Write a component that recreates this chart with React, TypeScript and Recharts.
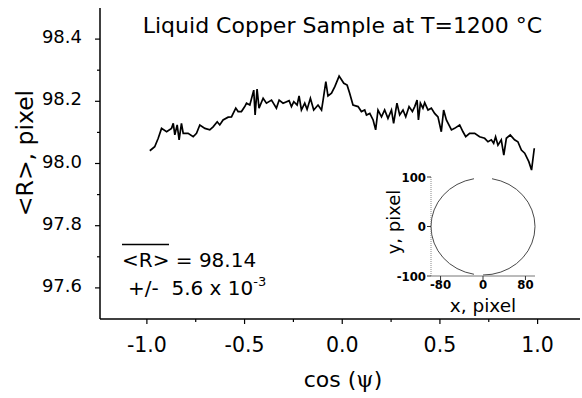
import React from "react";
import { LineChart, Line, XAxis, YAxis } from "recharts";

// cos(psi) positions and mean radius <R> (pixel)
const cosPsi = [
  -0.985, -0.96, -0.942, -0.925, -0.899, -0.874, -0.865, -0.857, -0.845, -0.835,
  -0.823, -0.814, -0.789, -0.763, -0.746, -0.729, -0.703, -0.678, -0.661, -0.64,
  -0.627, -0.61, -0.584, -0.567, -0.545, -0.533, -0.516, -0.499, -0.49, -0.473,
  -0.453, -0.446, -0.436, -0.426, -0.405, -0.388, -0.362, -0.337, -0.323, -0.303,
  -0.272, -0.26, -0.248, -0.231, -0.221, -0.209, -0.192, -0.18, -0.163, -0.146,
  -0.124, -0.106, -0.098, -0.084, -0.073, -0.055, -0.038, -0.016, 0.008, 0.025,
  0.038, 0.055, 0.081, 0.098, 0.115, 0.124, 0.141, 0.158, 0.171, 0.183,
  0.201, 0.217, 0.234, 0.252, 0.263, 0.28, 0.294, 0.311, 0.325, 0.342,
  0.359, 0.371, 0.383, 0.39, 0.4, 0.413, 0.422, 0.439, 0.456, 0.473,
  0.49, 0.507, 0.519, 0.533, 0.559, 0.575, 0.601, 0.618, 0.632, 0.652,
  0.678, 0.703, 0.729, 0.746, 0.763, 0.775, 0.785, 0.797, 0.814, 0.827,
  0.84, 0.86, 0.882, 0.899, 0.917, 0.934, 0.955, 0.969, 0.983,
];
const meanR = [
  98.041, 98.054, 98.081, 98.113, 98.102, 98.113, 98.129, 98.092, 98.124, 98.076,
  98.129, 98.097, 98.097, 98.086, 98.097, 98.124, 98.113, 98.108, 98.118, 98.134,
  98.124, 98.14, 98.149, 98.15, 98.178, 98.167, 98.167, 98.183, 98.194, 98.188,
  98.236, 98.156, 98.239, 98.178, 98.21, 98.194, 98.204, 98.178, 98.204, 98.194,
  98.202, 98.183, 98.199, 98.188, 98.217, 98.172, 98.194, 98.174, 98.21, 98.172,
  98.188, 98.172, 98.204, 98.263, 98.217, 98.226, 98.247, 98.281, 98.258, 98.252,
  98.226, 98.188, 98.183, 98.167, 98.172, 98.156, 98.161, 98.14, 98.108, 98.172,
  98.15, 98.172, 98.145, 98.172, 98.129, 98.194, 98.156, 98.172, 98.15, 98.183,
  98.167, 98.183, 98.204, 98.14, 98.194, 98.178, 98.196, 98.172, 98.178, 98.161,
  98.15, 98.102, 98.172, 98.14, 98.108, 98.113, 98.124, 98.102, 98.086, 98.097,
  98.097, 98.086, 98.081, 98.07, 98.076, 98.065, 98.086, 98.059, 98.076, 98.027,
  98.081, 98.092, 98.076, 98.07, 98.043, 98.033, 98.006, 97.979, 98.049,
];

const xTicks = [-1, -0.75, -0.5, -0.25, 0, 0.25, 0.5, 0.75, 1];
const yTicks = [97.6, 97.7, 97.8, 97.9, 98.0, 98.1, 98.2, 98.3, 98.4];

// inset: edge points of the sample (x, y in pixel), gap near bottom
const edgeX = [
  -17, -33.5, -49, -63, -75.1, -84.9, -92.1, -96.5, -98, -96.5, -92.1, -84.9, -75.1,
  -63, -49, -33.5, -17, -8, 0, 17, 33.5, 49, 63, 75.1, 84.9, 92.1, 96.5, 98, 96.5,
  92.1, 84.9, 75.1, 63, 49, 33.5, 17,
];
const edgeY = [
  96.5, 92.1, 84.9, 75.1, 63, 49, 33.5, 17, 0, -17, -33.5, -49, -63, -75.1, -84.9,
  -92.1, -96.5, null, -98, -96.5, -92.1, -84.9, -75.1, -63, -49, -33.5, -17, 0, 17,
  33.5, 49, 63, 75.1, 84.9, 92.1, 96.5,
];
const insetXTicks = [-80, 0, 80];
const insetYTicks = [-100, 0, 100];

const mainData = cosPsi.map((c, i) => ({ c, r: meanR[i] }));
const edgeData = edgeX.map((x, i) => ({ x, y: edgeY[i] }));

const FONT = "DejaVu Sans, Verdana, sans-serif";
const NARROW = "Liberation Sans Narrow, DejaVu Sans Condensed, Arial Narrow, sans-serif";

const XTick = (props: any) => {
  const { x, y, payload } = props;
  const v = payload.value;
  const major = Math.abs(v * 2 - Math.round(v * 2)) < 1e-6;
  return (
    <g>
      <line x1={x} x2={x} y1={y} y2={y + (major ? 5 : 3)} stroke="#000" strokeWidth={1.2} />
      {major && (
        <text x={x} y={y + 33} textAnchor="middle" fontSize={20.5} fontFamily={FONT} fill="#000">
          {v.toFixed(1)}
        </text>
      )}
    </g>
  );
};

const YTick = (props: any) => {
  const { x, y, payload } = props;
  const v = payload.value;
  const major = Math.round(v * 10) % 2 === 0;
  return (
    <g>
      <line x1={x - (major ? 5 : 3)} x2={x} y1={y} y2={y} stroke="#000" strokeWidth={1.2} />
      {major && (
        <text x={x - 18} y={y + 4} textAnchor="end" fontSize={18} fontFamily={FONT} fill="#000">
          {v.toFixed(1)}
        </text>
      )}
    </g>
  );
};

const insetTick = { fontSize: 13, fontFamily: NARROW, fontWeight: 700, fill: "#000" };

export default function App() {
  return (
    <div style={{ position: "absolute", left: 0, top: 0, width: 582, height: 398, background: "#fff" }}>
      <LineChart width={582} height={398} data={mainData} margin={{ top: 8, right: 2, left: 0, bottom: 0 }}>
        <XAxis
          dataKey="c"
          type="number"
          domain={[-1.24, 1.217]}
          ticks={xTicks}
          interval={0}
          tickSize={0}
          tickMargin={0}
          tick={XTick}
          height={79}
          axisLine={{ stroke: "#000", strokeWidth: 1.5 }}
        />
        <YAxis
          type="number"
          domain={[97.5, 98.5]}
          ticks={yTicks}
          interval={0}
          tickSize={0}
          tickMargin={0}
          tick={YTick}
          width={100}
          axisLine={{ stroke: "#000", strokeWidth: 1.5 }}
        />
        <Line
          type="linear"
          dataKey="r"
          stroke="#000"
          strokeWidth={1.7}
          dot={false}
          isAnimationActive={false}
        />
      </LineChart>

      <svg
        width={582}
        height={398}
        style={{ position: "absolute", left: 0, top: 0, pointerEvents: "none" }}
        fontFamily={FONT}
      >
        <text x={342.5} y={33} textAnchor="middle" fontSize={22}>
          Liquid Copper Sample at T=1200 °C
        </text>
        <text x={33} y={153} textAnchor="middle" fontSize={23.5} transform="rotate(-90, 33, 153)">
          {"<R>, pixel"}
        </text>
        <text x={343} y={387} textAnchor="middle" fontSize={22}>
          cos (<tspan fontFamily="DejaVu Serif, serif">ψ</tspan>)
        </text>
        <line x1={122} x2={169} y1={244.5} y2={244.5} stroke="#000" strokeWidth={1.4} />
        <text x={122} y={267} fontSize={20}>
          {"<R> = 98.14"}
        </text>
        <text x={128} y={295} fontSize={20} style={{ whiteSpace: "pre" }}>
          {"+/-  5.6 x 10"}
          <tspan fontSize={13} dy={-9}>-3</tspan>
        </text>
        <text x={400} y={222} textAnchor="middle" fontSize={18} transform="rotate(-90, 400, 222)">
          y, pixel
        </text>
        <text x={483} y={312} textAnchor="middle" fontSize={18.5}>
          x, pixel
        </text>
      </svg>

      <div style={{ position: "absolute", left: 380, top: 165 }}>
        <LineChart width={160} height={130} data={edgeData} margin={{ top: 12, right: 5, left: 0, bottom: 0 }}>
          <XAxis
            dataKey="x"
            type="number"
            domain={[-98, 98]}
            ticks={insetXTicks}
            interval={0}
            tickSize={4}
            tickMargin={0}
            height={19}
            tick={insetTick}
            axisLine={{ stroke: "#777", strokeWidth: 1 }}
            tickLine={{ stroke: "#333" }}
          />
          <YAxis
            type="number"
            domain={[-100, 100]}
            ticks={insetYTicks}
            interval={0}
            tickSize={4}
            tickMargin={1}
            width={51}
            tick={insetTick}
            axisLine={{ stroke: "#888", strokeWidth: 1, strokeDasharray: "1 1" }}
            tickLine={{ stroke: "#333" }}
          />
          <Line
            type="linear"
            dataKey="y"
            stroke="#333"
            strokeWidth={0.9}
            dot={false}
            connectNulls={false}
            isAnimationActive={false}
          />
        </LineChart>
      </div>
    </div>
  );
}
